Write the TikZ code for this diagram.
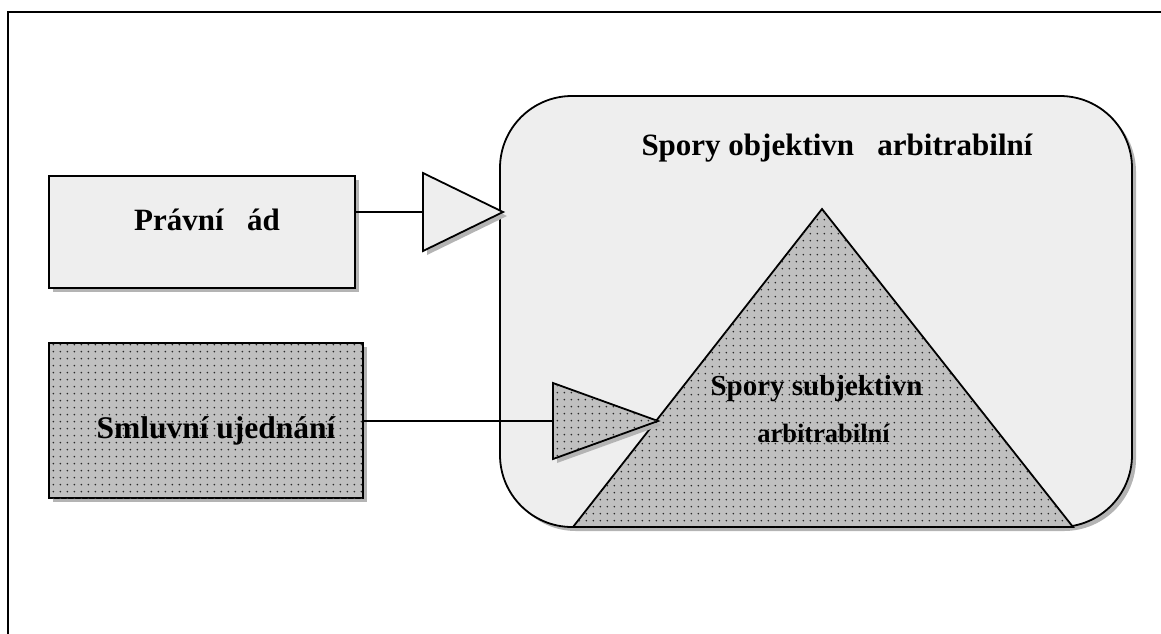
\documentclass[tikz,border=0pt]{standalone}
\usepackage{fontspec}
\setmainfont{Liberation Serif}
\usetikzlibrary{patterns.meta}

\definecolor{paper}{HTML}{EEEEEE}
\definecolor{stipple}{HTML}{C0C0C0}
\definecolor{dotink}{HTML}{2A2A2A}
\definecolor{shade}{HTML}{B4B4B4}

% regular grid of small dots laid over the grey fill
\tikzdeclarepattern{
  name=speckle, type=uncolored,
  bottom left={(0pt,0pt)}, top right={(7.3pt,7.3pt)},
  tile size={(7.3pt,7.3pt)},
  code={\pgfpathcircle{\pgfqpoint{3.65pt}{3.65pt}}{1pt}\pgfusepath{fill}}
}

\begin{document}
\begin{tikzpicture}[x=1pt,y=-1pt,
  outline/.style={draw=black, line width=1.8pt, line join=miter},
  light/.style={outline, fill=paper},
  dotted fill/.style={outline, fill=stipple,
    postaction={pattern=speckle, pattern color=dotink}},
  shadowed/.style={preaction={fill=shade, draw=none,
    transform canvas={xshift=4pt, yshift=-4pt}}},
  wire/.style={draw=black, line width=2.4pt},
  label/.style={inner sep=0pt, anchor=base, font=\bfseries}
]
\useasboundingbox (0,0) rectangle (1161,633);

% page frame, open to the right and bottom
\draw[line width=2.2pt] (8,12) rectangle (1180,650);

% large rounded container
\node[light, shadowed, rounded corners=72pt,
      minimum width=632pt, minimum height=431pt, inner sep=0pt]
      (objbox) at (816,311.5) {};

% inner triangle
\draw[dotted fill] (573,527) coordinate (tribl) -- (822,209) coordinate (apex)
  -- (1073,527) coordinate (tribr) -- cycle;

% left boxes
\node[light, shadowed, minimum width=306pt, minimum height=112pt, inner sep=0pt]
      (pravni) at (202,232) {};
\node[dotted fill, shadowed, minimum width=314pt, minimum height=155pt, inner sep=0pt]
      (smluvni) at (206,420.5) {};

% arrow-like triangles
\draw[light, shadowed] (423,173) -- (503,212) coordinate (t1tip) -- (423,251) -- cycle;
\coordinate (t1in) at (423,212);
\draw[dotted fill, shadowed] (553,383) -- (658,421) coordinate (t2tip) -- (553,459) -- cycle;
\coordinate (t2in) at (553,421);

% connectors
\draw[wire] (pravni.east |- t1in) -- (t1in);
\draw[wire] (smluvni.east |- t2in) -- (t2in);

% texts
\node[label, font=\bfseries\fontsize{31}{36}\selectfont] (objtext) at (837,155)
  {Spory objektivn~~~arbitrabilní};
\node[label, font=\bfseries\fontsize{31}{36}\selectfont] (pravnitext) at (207,230)
  {Právní~~~ád};
\node[label, font=\bfseries\fontsize{31.5}{36}\selectfont] (smluvnitext) at (216,438)
  {Smluvní ujednání};
\node[label, font=\bfseries\fontsize{29}{34}\selectfont] (subjtext) at (816.5,395)
  {Spory subjektivn};
\node[label, font=\bfseries\fontsize{26.5}{30}\selectfont] (arbtext) at (823.5,442)
  {arbitrabilní};
\end{tikzpicture}
\end{document}
